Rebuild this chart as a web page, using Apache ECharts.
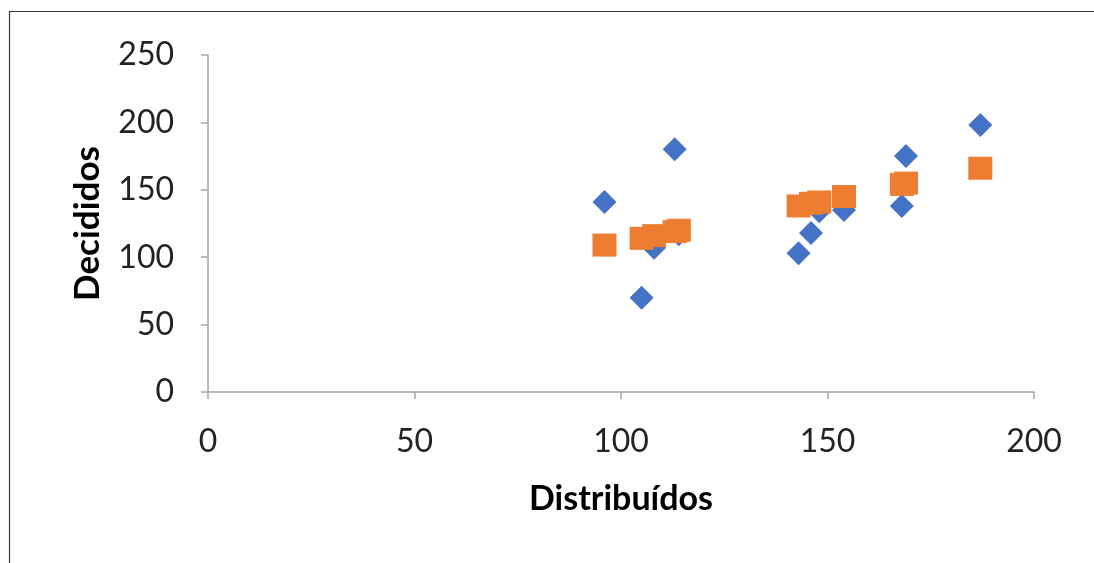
<!DOCTYPE html>
<html>
<head>
<meta charset="utf-8">
<script src="https://cdn.jsdelivr.net/npm/echarts@6/dist/echarts.min.js"></script>
<style>html,body{margin:0;padding:0;background:#fff}#c{width:1094px;height:563px}</style>
</head>
<body>
<div id="c"></div>
<script>
var xName = 'Distribuídos';
var yName = 'Decididos';
var distribuidos = [96, 105, 108, 113, 114, 143, 146, 148, 154, 168, 169, 187];
var decididos   = [141, 70, 107, 180, 117, 103, 118, 134, 135, 138, 175, 198];
var previstos   = [109, 114, 116, 119, 120, 138, 140, 141, 145, 154, 155, 166];

var observed = distribuidos.map(function (x, i) { return [x, decididos[i]]; });
var predicted = distribuidos.map(function (x, i) { return [x, previstos[i]]; });

var chart = echarts.init(document.getElementById('c'));
var font = 'Lato, "Open Sans", sans-serif';
var axisColor = '#a6a6a6';
chart.setOption({
  backgroundColor: '#ffffff',
  animation: false,
  grid: { left: 208, top: 55, right: 60, bottom: 171 },
  xAxis: {
    type: 'value', min: 0, max: 200, interval: 50,
    name: xName, nameLocation: 'middle', nameGap: 90,
    nameTextStyle: { fontFamily: font, fontWeight: 'bold', fontSize: 34, color: '#000' },
    axisLine: { show: true, onZero: false, lineStyle: { color: axisColor, width: 1.5 } },
    axisTick: { show: true, inside: false, length: 7, lineStyle: { color: axisColor, width: 1.5 } },
    axisLabel: { fontFamily: font, fontSize: 32, color: '#222', margin: 34 },
    splitLine: { show: false }
  },
  yAxis: {
    type: 'value', min: 0, max: 250, interval: 50,
    name: yName, nameLocation: 'middle', nameGap: 103,
    nameTextStyle: { fontFamily: font, fontWeight: 'bold', fontSize: 35, color: '#000' },
    axisLine: { show: true, onZero: false, lineStyle: { color: axisColor, width: 1.5 } },
    axisTick: { show: true, inside: false, length: 7, lineStyle: { color: axisColor, width: 1.5 } },
    axisLabel: { fontFamily: font, fontSize: 32, color: '#222', margin: 34 },
    splitLine: { show: false }
  },
  graphic: [{
    type: 'polyline',
    shape: { points: [[9.5, 563], [9.5, 11.5], [1094, 11.5]] },
    style: { stroke: '#3a3a3a', lineWidth: 1.2, fill: null },
    silent: true
  }],
  series: [
    {
      type: 'scatter', data: observed, symbol: 'diamond', symbolSize: [24, 24],
      itemStyle: { color: '#4472C4', opacity: 1 }, z: 2
    },
    {
      type: 'scatter', data: predicted, symbol: 'rect', symbolSize: [24, 23],
      itemStyle: { color: '#ED7D31', opacity: 1 }, z: 3
    }
  ]
});
</script>
</body>
</html>
